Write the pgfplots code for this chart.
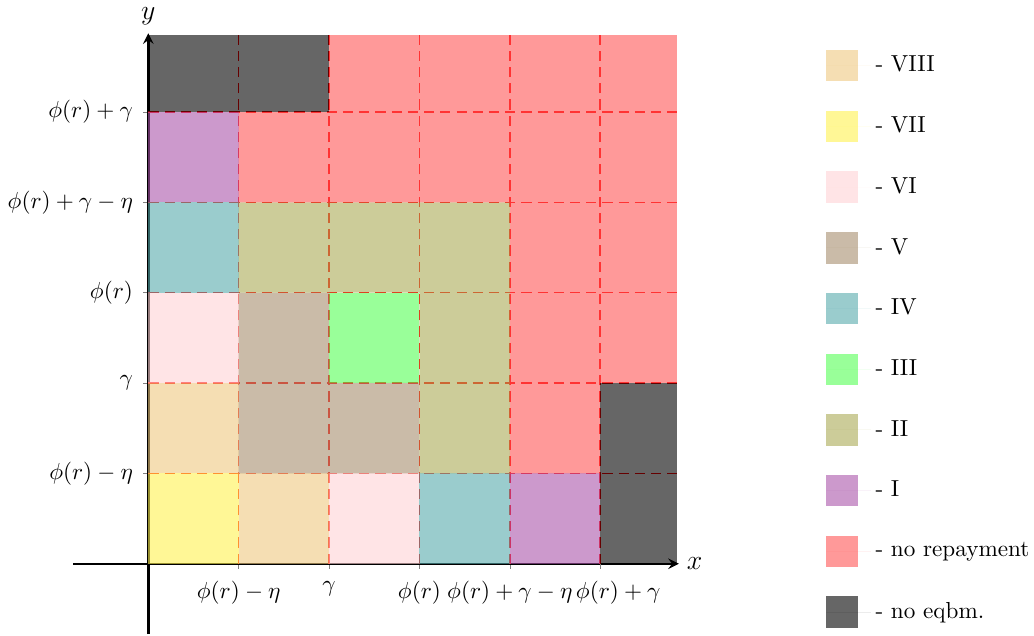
\documentclass[border=0pt]{standalone}
\usepackage{pgfplots}
\pgfplotsset{compat=1.18}
\definecolor{cwheat}{RGB}{238,200,128}
\definecolor{cyellow}{RGB}{255,242,80}
\definecolor{cpink}{RGB}{255,210,213}
\definecolor{ctan}{RGB}{167,142,110}
\definecolor{cteal}{RGB}{87,170,172}
\definecolor{cgreen}{RGB}{85,255,85}
\definecolor{colive}{RGB}{170,170,85}
\definecolor{cpurple}{RGB}{170,85,170}
\definecolor{cred}{RGB}{255,85,85}
\definecolor{cgray}{RGB}{0,0,0}
\begin{document}
\begin{tikzpicture}
\begin{axis}[
  x=39.0pt, y=39.0pt,
  axis lines=middle,
  xmin=-0.83, xmax=5.87, ymin=-0.78, ymax=5.87,
  axis line style={line width=1pt},
  xtick={1,2,3,4},
  xticklabels={$\phi(r)-\eta$, $\gamma$, $\phi(r)$, $\phi(r)+\gamma-\eta$},
  extra x ticks={5},
  extra x tick labels={$\phi(r)+\gamma$},
  extra x tick style={xticklabel style={xshift=7.8pt}},
  ytick={1,2,3,4,5},
  yticklabels={$\phi(r)-\eta$, $\gamma$, $\phi(r)$, $\phi(r)+\gamma-\eta$, $\phi(r)+\gamma$},
  xticklabel style={yshift=-2pt},
  yticklabel style={xshift=-1pt},
  xlabel={\large $x$}, ylabel={\large $y$},
  xlabel style={at={(ticklabel* cs:1)}, anchor=west},
  ylabel style={at={(ticklabel* cs:1)}, anchor=south},
  legend style={draw=none, fill=none, at={(1.243,0.973)}, anchor=north west,
    row sep=12.6pt, legend cell align=left, inner sep=0pt},
  legend image code/.code={\fill[#1] (0pt,-6.8pt) rectangle (13.6pt,6.8pt);
    \path (0pt,0pt) -- (19.2pt,0pt);},
]
% dashed grid
\addplot[forget plot, red, line width=0.6pt, dash pattern=on 4.4pt off 2.6pt] coordinates {(0,1) (5.85,1)};
\addplot[forget plot, red, line width=0.6pt, dash pattern=on 4.4pt off 2.6pt] coordinates {(0,2) (5.85,2)};
\addplot[forget plot, red, line width=0.6pt, dash pattern=on 4.4pt off 2.6pt] coordinates {(0,3) (5.85,3)};
\addplot[forget plot, red, line width=0.6pt, dash pattern=on 4.4pt off 2.6pt] coordinates {(0,4) (5.85,4)};
\addplot[forget plot, red, line width=0.6pt, dash pattern=on 4.4pt off 2.6pt] coordinates {(0,5) (5.85,5)};
\addplot[forget plot, red, line width=0.6pt, dash pattern=on 4.4pt off 2.6pt] coordinates {(1,0) (1,5.85)};
\addplot[forget plot, red, line width=0.6pt, dash pattern=on 4.4pt off 2.6pt] coordinates {(2,0) (2,5.85)};
\addplot[forget plot, red, line width=0.6pt, dash pattern=on 4.4pt off 2.6pt] coordinates {(3,0) (3,5.85)};
\addplot[forget plot, red, line width=0.6pt, dash pattern=on 4.4pt off 2.6pt] coordinates {(4,0) (4,5.85)};
\addplot[forget plot, red, line width=0.6pt, dash pattern=on 4.4pt off 2.6pt] coordinates {(5,0) (5,5.85)};
% VIII
\addplot[draw=none, fill=cwheat, fill opacity=0.6] coordinates {(1,0) (2,0) (2,1) (1,1)} -- cycle;
\addplot[forget plot, draw=none, fill=cwheat, fill opacity=0.6] coordinates {(0,1) (1,1) (1,2) (0,2)} -- cycle;
% VII
\addplot[draw=none, fill=cyellow, fill opacity=0.6] coordinates {(0,0) (1,0) (1,1) (0,1)} -- cycle;
% VI
\addplot[draw=none, fill=cpink, fill opacity=0.6] coordinates {(2,0) (3,0) (3,1) (2,1)} -- cycle;
\addplot[forget plot, draw=none, fill=cpink, fill opacity=0.6] coordinates {(0,2) (1,2) (1,3) (0,3)} -- cycle;
% V
\addplot[draw=none, fill=ctan, fill opacity=0.6] coordinates {(1,1) (3,1) (3,2) (2,2) (2,3) (1,3)} -- cycle;
% IV
\addplot[draw=none, fill=cteal, fill opacity=0.6] coordinates {(3,0) (4,0) (4,1) (3,1)} -- cycle;
\addplot[forget plot, draw=none, fill=cteal, fill opacity=0.6] coordinates {(0,3) (1,3) (1,4) (0,4)} -- cycle;
% III
\addplot[draw=none, fill=cgreen, fill opacity=0.6] coordinates {(2,2) (3,2) (3,3) (2,3)} -- cycle;
% II
\addplot[draw=none, fill=colive, fill opacity=0.6] coordinates {(3,1) (4,1) (4,4) (1,4) (1,3) (3,3)} -- cycle;
% I
\addplot[draw=none, fill=cpurple, fill opacity=0.6] coordinates {(4,0) (5,0) (5,1) (4,1)} -- cycle;
\addplot[forget plot, draw=none, fill=cpurple, fill opacity=0.6] coordinates {(0,4) (1,4) (1,5) (0,5)} -- cycle;
% no repayment
\addplot[draw=none, fill=cred, fill opacity=0.6] coordinates {(4,1) (5,1) (5,2) (5.85,2) (5.85,5.85) (2,5.85) (2,5) (1,5) (1,4) (4,4)} -- cycle;
% no eqbm
\addplot[draw=none, fill=cgray, fill opacity=0.6] coordinates {(5,0) (5.85,0) (5.85,2) (5,2)} -- cycle;
\addplot[forget plot, draw=none, fill=cgray, fill opacity=0.6] coordinates {(0,5) (2,5) (2,5.85) (0,5.85)} -- cycle;
\legend{- VIII, - VII, - VI, - V, - IV, - III, - II, - I, - no repayment, - no eqbm.}
\end{axis}
\end{tikzpicture}
\end{document}
